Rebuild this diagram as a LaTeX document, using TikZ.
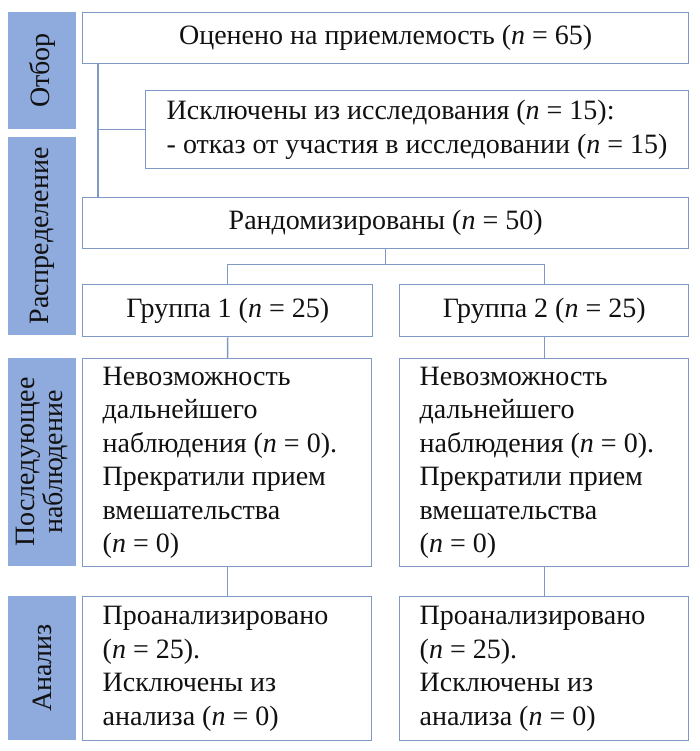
\documentclass[tikz,border=0pt]{standalone}
\usepackage{fontspec}
\setmainfont{Liberation Serif}
\usepackage{xcolor}
\usepackage{tikz}
\usetikzlibrary{positioning,calc}
\definecolor{bandblue}{HTML}{8FAADC}
\definecolor{edgeblue}{HTML}{7F98C4}
\definecolor{ink}{HTML}{111111}
\tikzset{
  every node/.style={font=\fontsize{28}{33.5}\selectfont,text=ink},
  band/.style={fill=bandblue,draw=none,rotate=90,minimum height=68pt,inner sep=0pt,align=center},
  box/.style={draw=edgeblue,line width=1.4pt,fill=white,anchor=north west,inner sep=0pt},
  cbox/.style={box,align=center},
  lbox/.style={box,align=flush left,inner xsep=20pt},
  link/.style={draw=edgeblue,line width=1.4pt}
}

\begin{document}
\begin{tikzpicture}[x=1pt,y=-1pt]
  \useasboundingbox (0,0) rectangle (700,751);

  \node[band,minimum width=117pt] (selLab) at (42,70.5) {Отбор};
  \node[band,minimum width=198pt] (allocLab) at (42,236) {Распределение};
  \node[band,minimum width=208pt,font=\fontsize{28}{24}\selectfont] (fupLab) at (42,462) {Последующее\\наблюдение};
  \node[band,minimum width=144pt] (anaLab) at (42,668) {Анализ};

  \node[cbox,minimum width=606pt,minimum height=51pt] (assess) at (82,12) {Оценено на приемлемость (\textit{n} = 65)};
  \node[lbox,inner xsep=21pt,text width=501pt,minimum height=78pt] (excl) at (145,90) {\mbox{Исключены из исследования (\textit{n} = 15):}\\\mbox{- отказ от участия в исследовании (\textit{n} = 15)}};
  \node[cbox,minimum width=606pt,minimum height=51pt] (rand) at (82,197) {Рандомизированы (\textit{n} = 50)};
  \node[cbox,minimum width=290pt,minimum height=52pt] (grpA) at (82,284) {Группа 1 (\textit{n} = 25)};
  \node[cbox,minimum width=289pt,minimum height=52pt] (grpB) at (399,284) {Группа 2 (\textit{n} = 25)};

  \node[lbox,text width=249pt,minimum height=208pt] (fupA) at (82,358) {Невозможность\\дальнейшего\\наблюдения (\textit{n} = 0).\\Прекратили прием\\вмешательства\\(\textit{n} = 0)};
  \node[lbox,text width=249pt,minimum height=208pt] (fupB) at (399,358) {Невозможность\\дальнейшего\\наблюдения (\textit{n} = 0).\\Прекратили прием\\вмешательства\\(\textit{n} = 0)};
  \node[lbox,text width=249pt,minimum height=144pt] (anA) at (82,596) {Проанализировано\\(\textit{n} = 25).\\Исключены из\\анализа (\textit{n} = 0)};
  \node[lbox,text width=249pt,minimum height=144pt] (anB) at (399,596) {Проанализировано\\(\textit{n} = 25).\\Исключены из\\анализа (\textit{n} = 0)};

  \coordinate (spine) at (98,0);
  \draw[link] (spine |- assess.south) -- (spine |- rand.north);
  \draw[link] (spine |- excl.west) -- (excl.west);
  \draw[link] (rand.south) -- ++(0,15) coordinate (fork);
  \draw[link] (grpA.north) |- (fork) -| (grpB.north);
  \draw[link] (grpA) -- (fupA);
  \draw[link] (grpB) -- (fupB);
  \draw[link] (fupA) -- (anA);
  \draw[link] (fupB) -- (anB);
\end{tikzpicture}
\end{document}
